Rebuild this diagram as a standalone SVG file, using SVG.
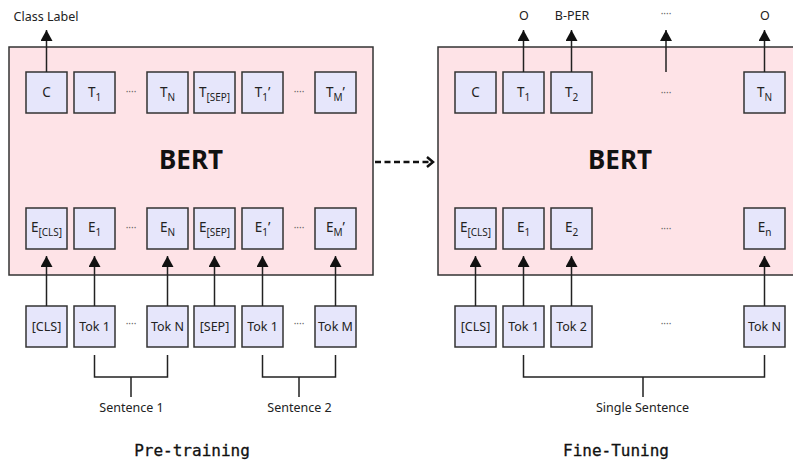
<svg xmlns="http://www.w3.org/2000/svg" width="793" height="464" viewBox="0 0 793 464">
<style>
.bert{fill:#fee3e7;stroke:#333;stroke-width:1.5}
.box{fill:#e6e6fb;stroke:#333;stroke-width:1.5}
.lbl{font-family:"Noto Sans","Liberation Sans",sans-serif;font-size:12.5px;fill:#222;text-anchor:middle}
.sym{font-size:13.5px}
.sub{font-size:10px}
.dots{font-family:"Noto Sans","Liberation Sans",sans-serif;font-size:10px;fill:#666;text-anchor:middle}
.big{font-family:"Noto Sans","Liberation Sans",sans-serif;font-size:26px;font-weight:bold;fill:#111;text-anchor:middle}
.mono{font-family:"DejaVu Sans Mono","Liberation Mono",monospace;font-size:16px;fill:#111;text-anchor:middle;stroke:#111;stroke-width:0.3}
.ln{stroke:#222;stroke-width:1.5;fill:none}
.arr{stroke:#222;stroke-width:1.5;fill:none;marker-end:url(#ah)}
</style>
<defs>
<marker id="ah" viewBox="0 0 11 12" refX="11" refY="6" markerWidth="11" markerHeight="12" markerUnits="userSpaceOnUse" orient="auto">
<path d="M0,0 L11,6 L0,12 z" fill="#111"/>
</marker>
<marker id="oh" viewBox="0 0 10 12" refX="8" refY="6" markerWidth="10" markerHeight="12" markerUnits="userSpaceOnUse" orient="auto">
<path d="M2,1 L8,6 L2,11" fill="none" stroke="#111" stroke-width="2.5"/>
</marker>
</defs>
<rect width="793" height="464" fill="#fff"/>

<g id="bert-pre">
<rect class="bert" x="9" y="47" width="364" height="228"/>
<text class="big" x="191" y="169">BERT</text>
</g>
<g id="bert-fine">
<rect class="bert" x="438" y="47" width="372" height="228"/>
<text class="big" x="620" y="169">BERT</text>
</g>

<!-- Pre-training top row -->
<g id="p-C"><rect class="box" x="26" y="72" width="41" height="41"/><text class="lbl sym" x="46.5" y="97">C</text></g>
<g id="p-T1"><rect class="box" x="74" y="72" width="41" height="41"/><text class="lbl sym" x="94.5" y="97">T<tspan class="sub" dy="4">1</tspan></text></g>
<g id="p-TN"><rect class="box" x="147" y="72" width="41" height="41"/><text class="lbl sym" x="167.5" y="97">T<tspan class="sub" dy="4">N</tspan></text></g>
<g id="p-TSEP"><rect class="box" x="194" y="72" width="41" height="41"/><text class="lbl sym" x="214.5" y="97">T<tspan class="sub" dy="4">[SEP]</tspan></text></g>
<g id="p-T1p"><rect class="box" x="242" y="72" width="41" height="41"/><text class="lbl sym" x="262.5" y="97">T<tspan class="sub" dy="4">1</tspan><tspan dy="-4">’</tspan></text></g>
<g id="p-TMp"><rect class="box" x="315" y="72" width="41" height="41"/><text class="lbl sym" x="335.5" y="97">T<tspan class="sub" dy="4">M</tspan><tspan dy="-4">’</tspan></text></g>
<text class="dots" x="131" y="95">····</text>
<text class="dots" x="299" y="95">····</text>

<!-- Pre-training E row -->
<g id="p-ECLS"><rect class="box" x="26" y="208" width="41" height="41"/><text class="lbl sym" x="46.5" y="232">E<tspan class="sub" dy="4">[CLS]</tspan></text></g>
<g id="p-E1"><rect class="box" x="74" y="208" width="41" height="41"/><text class="lbl sym" x="94.5" y="232">E<tspan class="sub" dy="4">1</tspan></text></g>
<g id="p-EN"><rect class="box" x="147" y="208" width="41" height="41"/><text class="lbl sym" x="167.5" y="232">E<tspan class="sub" dy="4">N</tspan></text></g>
<g id="p-ESEP"><rect class="box" x="194" y="208" width="41" height="41"/><text class="lbl sym" x="214.5" y="232">E<tspan class="sub" dy="4">[SEP]</tspan></text></g>
<g id="p-E1p"><rect class="box" x="242" y="208" width="41" height="41"/><text class="lbl sym" x="262.5" y="232">E<tspan class="sub" dy="4">1</tspan><tspan dy="-4">’</tspan></text></g>
<g id="p-EMp"><rect class="box" x="315" y="208" width="41" height="41"/><text class="lbl sym" x="335.5" y="232">E<tspan class="sub" dy="4">M</tspan><tspan dy="-4">’</tspan></text></g>
<text class="dots" x="131" y="231">····</text>
<text class="dots" x="299" y="231">····</text>

<!-- Pre-training token row -->
<g id="p-CLS"><rect class="box" x="26" y="306" width="41" height="41"/><text class="lbl" x="46.5" y="331">[CLS]</text></g>
<g id="p-Tok1"><rect class="box" x="74" y="306" width="41" height="41"/><text class="lbl" x="94.5" y="331">Tok 1</text></g>
<g id="p-TokN"><rect class="box" x="147" y="306" width="41" height="41"/><text class="lbl" x="167.5" y="331">Tok N</text></g>
<g id="p-SEP"><rect class="box" x="194" y="306" width="41" height="41"/><text class="lbl" x="214.5" y="331">[SEP]</text></g>
<g id="p-Tok1b"><rect class="box" x="242" y="306" width="41" height="41"/><text class="lbl" x="262.5" y="331">Tok 1</text></g>
<g id="p-TokM"><rect class="box" x="315" y="306" width="41" height="41"/><text class="lbl" x="335.5" y="331">Tok M</text></g>
<text class="dots" x="131" y="327">····</text>
<text class="dots" x="299" y="327">····</text>

<!-- Fine-tuning top row -->
<g id="f-C"><rect class="box" x="455" y="72" width="41" height="41"/><text class="lbl sym" x="475.5" y="97">C</text></g>
<g id="f-T1"><rect class="box" x="503" y="72" width="41" height="41"/><text class="lbl sym" x="523.5" y="97">T<tspan class="sub" dy="4">1</tspan></text></g>
<g id="f-T2"><rect class="box" x="551" y="72" width="41" height="41"/><text class="lbl sym" x="571.5" y="97">T<tspan class="sub" dy="4">2</tspan></text></g>
<g id="f-TN"><rect class="box" x="744" y="72" width="41" height="41"/><text class="lbl sym" x="764.5" y="97">T<tspan class="sub" dy="4">N</tspan></text></g>
<text class="dots" x="666" y="96">····</text>

<!-- Fine-tuning E row -->
<g id="f-ECLS"><rect class="box" x="455" y="208" width="41" height="41"/><text class="lbl sym" x="475.5" y="232">E<tspan class="sub" dy="4">[CLS]</tspan></text></g>
<g id="f-E1"><rect class="box" x="503" y="208" width="41" height="41"/><text class="lbl sym" x="523.5" y="232">E<tspan class="sub" dy="4">1</tspan></text></g>
<g id="f-E2"><rect class="box" x="551" y="208" width="41" height="41"/><text class="lbl sym" x="571.5" y="232">E<tspan class="sub" dy="4">2</tspan></text></g>
<g id="f-En"><rect class="box" x="744" y="208" width="41" height="41"/><text class="lbl sym" x="764.5" y="232">E<tspan class="sub" dy="4">n</tspan></text></g>
<text class="dots" x="666" y="232">····</text>

<!-- Fine-tuning token row -->
<g id="f-CLS"><rect class="box" x="455" y="306" width="41" height="41"/><text class="lbl" x="475.5" y="331">[CLS]</text></g>
<g id="f-Tok1"><rect class="box" x="503" y="306" width="41" height="41"/><text class="lbl" x="523.5" y="331">Tok 1</text></g>
<g id="f-Tok2"><rect class="box" x="551" y="306" width="41" height="41"/><text class="lbl" x="571.5" y="331">Tok 2</text></g>
<g id="f-TokN"><rect class="box" x="744" y="306" width="41" height="41"/><text class="lbl" x="764.5" y="331">Tok N</text></g>
<text class="dots" x="666" y="327">····</text>

<!-- Output labels -->
<g id="labels">
<text class="lbl" x="46" y="21">Class Label</text>
<text class="lbl" x="524" y="20">O</text>
<text class="lbl" x="572" y="20">B-PER</text>
<text class="dots" x="666" y="17">····</text>
<text class="lbl" x="765" y="20">O</text>
<text class="lbl" x="131.5" y="412">Sentence 1</text>
<text class="lbl" x="299.5" y="412">Sentence 2</text>
<text class="lbl" x="642.5" y="412">Single Sentence</text>
<text class="mono" x="192" y="456">Pre-training</text>
<text class="mono" x="616" y="456">Fine-Tuning</text>
</g>

<g id="connectors">
<line class="arr" x1="46.5" y1="72" x2="46.5" y2="30"/>
<line class="arr" x1="523.5" y1="72" x2="523.5" y2="30"/>
<line class="arr" x1="571.5" y1="72" x2="571.5" y2="30"/>
<line class="arr" x1="666" y1="72" x2="666" y2="30"/>
<line class="arr" x1="764.5" y1="72" x2="764.5" y2="30"/>
<line class="arr" x1="46.5" y1="306" x2="46.5" y2="256"/>
<line class="arr" x1="94.5" y1="306" x2="94.5" y2="256"/>
<line class="arr" x1="167.5" y1="306" x2="167.5" y2="256"/>
<line class="arr" x1="214.5" y1="306" x2="214.5" y2="256"/>
<line class="arr" x1="262.5" y1="306" x2="262.5" y2="256"/>
<line class="arr" x1="335.5" y1="306" x2="335.5" y2="256"/>
<line class="arr" x1="475.5" y1="306" x2="475.5" y2="256"/>
<line class="arr" x1="523.5" y1="306" x2="523.5" y2="256"/>
<line class="arr" x1="571.5" y1="306" x2="571.5" y2="256"/>
<line class="arr" x1="764.5" y1="306" x2="764.5" y2="256"/>
<path class="ln" d="M94.5,355 V377 H167.5 V355 M131,377 V397"/>
<path class="ln" d="M262.5,355 V377 H335.5 V355 M299,377 V397"/>
<path class="ln" d="M523.5,355 V377 H764.5 V355 M643,377 V397"/>
<line x1="375" y1="162" x2="433" y2="162" stroke="#111" stroke-width="2.5" stroke-dasharray="6 3.5" marker-end="url(#oh)"/>
</g>
</svg>
